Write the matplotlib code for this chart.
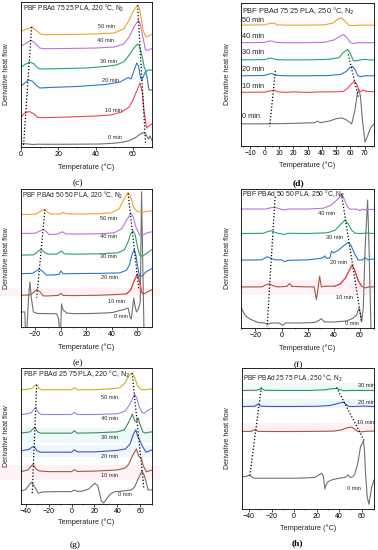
import matplotlib
matplotlib.use("Agg")
import matplotlib.pyplot as plt
from matplotlib.patches import Rectangle
from matplotlib.ticker import MultipleLocator

plt.rcParams['font.family'] = ['Liberation Sans', 'DejaVu Sans']

W, H = 378, 550
fig = plt.figure(figsize=(W / 100, H / 100), dpi=100)

# ---------------- colours ----------------
GRAY = '#707070'
RED = '#f2454f'
BLUE = '#2a78c6'
GREEN = '#1fa865'
VIOLET = '#c26fe0'
ORANGE = '#f0a12a'
BROWN = '#a6583a'
BLUE2 = '#3f4fd6'
GREEN2 = '#3f8c5c'
VIOLET2 = '#9a82e6'
OLIVE = '#c9b512'

# ---------------- panel (c) : PBF PBAd 75 25 PLA, 220 C ----------------
c_0 = [(0, 3.5), (3, 3.2), (6, 2.5), (9, 2.8), (15, 2.7), (30, 2.8), (42, 3), (50, 3.8), (55, 5), (58, 6.5),
       (61, 9), (63.5, 12.5), (65.5, 14.3), (67, 12.5), (68.3, 8), (69.2, 11), (70, 7)]
c_10 = [(0, 30), (2, 34), (4.5, 35.5), (7, 33), (9, 29.5), (12, 29.3), (25, 30), (40, 31), (48, 32), (54, 35),
        (58, 40), (60, 47), (62, 56), (63.8, 64), (65, 55), (66, 35), (67.3, 19), (68.5, 21), (70, 23)]
c_20 = [(0, 61), (2, 64), (4, 67), (6, 66), (8, 62), (10, 59), (15, 59.5), (30, 60.5), (45, 62.5), (53, 65),
        (56, 68), (57.5, 69.5), (59, 68), (60.5, 76), (62, 84), (63, 81), (64, 70), (64.6, 66.7), (65.5, 70),
        (66.8, 76), (67.7, 68), (68.6, 57), (70, 57)]
c_30 = [(0, 80), (2.5, 83), (4.8, 85), (7, 83), (9, 79), (11, 78), (20, 78.3), (35, 79), (45, 80.5), (51, 82),
        (55, 85), (58, 92), (60.5, 99), (62.5, 103), (63.5, 101), (65, 90), (66, 80), (67, 75.7), (68.5, 77), (70, 77)]
c_40 = [(0, 101), (3, 104), (5.4, 106.7), (7.5, 104), (10, 99), (12, 98.3), (25, 98.5), (40, 99), (50, 100),
        (55, 103), (58, 110), (60.5, 120), (62.9, 126.7), (64, 122), (65.3, 110), (66.7, 97), (68, 96.7), (70, 98.3)]
c_50 = [(0, 115.7), (3, 118), (5.7, 120), (8, 117), (10.5, 113), (12, 112.3), (25, 112.5), (40, 113), (50, 114),
        (55, 118), (58, 127), (60.5, 137), (62.5, 141.7), (63.5, 139), (64.5, 128), (65.5, 116), (67, 110),
        (68.5, 111), (70, 112.7)]
c_labels = [('50 min', 46, 120), ('40 min', 45.5, 107), ('30 min', 47, 85.7), ('20 min', 47.7, 66.7),
            ('10 min', 49.5, 37), ('0 min', 50.5, 10)]
c_dots = [[(5.7, 120), (1.3, 0)], [(62.5, 141.7), (66.8, 2)]]

# ---------------- panel (d) : PBF PBAd 75 25 PLA, 250 C ----------------
d_0 = [(-16.5, 22.3), (-5, 22.3), (10, 22.5), (25, 23), (35, 23.5), (37, 25), (39, 23.5), (45, 25), (50, 27.5),
       (54, 28.3), (57, 26.5), (60.9, 22.3), (63, 35), (64.8, 52), (66, 57.3), (67, 50), (68.5, 25), (70.2, 4),
       (72, 10), (74, 18), (76.5, 22.3)]
d_10 = [(-16.5, 54), (0, 54.3), (4, 55.5), (6.6, 56.3), (9, 54.5), (15, 54), (20, 54.5), (30, 54), (40, 54.5),
        (50, 54.5), (55, 55), (58, 58), (61, 63), (63, 65), (64.5, 62), (66, 55), (67.5, 55), (69, 56.3), (71, 55),
        (76.5, 54.7)]
d_20 = [(-16.5, 70.7), (0, 71), (3, 72.5), (5.2, 73), (8, 71.2), (15, 70.7), (30, 70.7), (45, 71), (53, 72),
        (57, 75), (59.5, 79), (61.6, 80), (63.5, 76), (65, 71), (67, 69.7), (70, 70.7), (76.5, 70.7)]
d_30 = [(-16.5, 86.7), (0, 87), (3, 88.3), (5, 88.3), (8, 87), (15, 86.7), (30, 86.7), (45, 87.3), (52, 89),
        (55, 94), (58, 97.3), (60, 93), (62, 86), (64, 85.7), (67, 86.7), (70, 87.3), (73, 86.7), (76.5, 86.7)]
d_40 = [(-16.5, 104), (0, 104.3), (3, 105.7), (5, 105.7), (8, 104.3), (15, 104), (30, 104), (42, 104.5),
        (49, 107), (52, 110), (55.3, 112.3), (57.5, 109), (60, 104), (62, 103.3), (66, 104), (76.5, 104)]
d_50 = [(-16.5, 121.7), (0, 122), (4, 123.5), (6.6, 123.7), (9, 122), (15, 121.7), (30, 121.7), (42, 122),
        (48, 124), (51, 127.5), (53.9, 129), (56, 126), (59, 121.5), (62, 121.3), (66, 121.7), (76.5, 121.7)]
d_labels = [('50 min', -15.5, 126.7), ('40 min', -15.5, 110), ('30 min', -15.5, 93.7), ('20 min', -15.5, 77),
            ('10 min', -15.5, 60.3), ('0 min', -15.5, 29.7)]
d_dots = [[(7.5, 75.7), (3.6, 19.7)], [(58.5, 92.3), (65.6, 49)]]

# ---------------- panel (e) : PBF PBAd 50 50 PLA, 220 C ----------------
e_0 = [(-31, 15), (-28, 15), (-27.5, -5), (-26.5, -5), (-25, 30), (-24, 45), (-23, 30), (-21.3, 15), (-18, 13.5),
       (-10, 13.3), (-3, 13.3), (-1.5, 8), (-0.7, -5), (0, -5), (0.8, 23), (2, 17), (4.8, 14), (10, 13.3),
       (25, 13.5), (35, 14), (41, 14.5), (45, 16), (50, 17.5), (53, 19), (54.5, 10), (55.5, 8), (57.4, 29),
       (58.5, 20), (59.5, 15), (61, 18), (62.5, 25), (63.5, 135), (64.5, 60), (65.5, -10), (71.7, -10)]
e_10 = [(-31, 31.7), (-24, 32), (-21, 34.5), (-18.7, 37.3), (-16, 35), (-13.5, 31), (-10, 31), (-2, 31.5),
        (0.3, 33.5), (2, 31.5), (10, 31.3), (30, 31.7), (45, 32.5), (51.7, 33), (55, 37), (58, 47), (60.3, 52.7),
        (62, 45), (63.5, 35), (64.7, 33), (66, 33.5), (68, 35), (71.7, 37.3)]
e_20 = [(-31, 53.3), (-22, 53.5), (-19, 56), (-16.6, 57.7), (-14, 55.5), (-11.2, 51.7), (-5, 52), (-1, 52.5),
        (0.3, 56), (2, 53), (10, 53.3), (30, 53.5), (46.5, 54), (51.7, 56.7), (54, 62), (56, 72), (57.7, 77.3),
        (59, 72), (60.5, 60), (62, 50), (64, 51), (67, 55), (71.7, 58.3)]
e_30 = [(-31, 71.7), (-21, 72), (-18, 75), (-15.3, 77.7), (-12.5, 74.5), (-10, 72.7), (-3, 72.7), (0.8, 75.7),
        (3, 73), (10, 72.7), (30, 73), (45, 74), (50, 77), (53, 85), (55, 93), (56.9, 96), (58.5, 92), (60, 82),
        (62, 71.7), (64, 70.5), (67, 73), (71.7, 77.3)]
e_40 = [(-31, 93.3), (-20, 93.5), (-16, 96), (-13.5, 97.3), (-11, 95), (-9, 92.3), (-3, 92.5), (1.5, 95),
        (4, 93), (10, 92.7), (30, 93), (42, 94), (48, 98), (51.5, 106), (55, 113.3), (57, 110), (59, 100),
        (62, 91.7), (65, 92), (68, 94), (71.7, 95)]
e_50 = [(-31, 112.3), (-20, 112.5), (-15, 116), (-12.7, 117.3), (-10, 114.5), (-8, 112.7), (0, 112.7),
        (2, 114.5), (4, 113), (10, 112.7), (30, 113), (40, 114), (46, 118), (50, 128), (53, 134.3), (55, 130),
        (57.5, 119), (60.3, 115), (64, 114.5), (68, 115.5), (71.7, 116)]
e_labels = [('50 min', 37.3, 108.3), ('40 min', 37.3, 90), ('30 min', 37.3, 70.7), ('20 min', 38.6, 49),
            ('10 min', 43.8, 25), ('0 min', 47.7, 10.7)]
e_dots = [[(-12.2, 117.3), (-18.7, 29.3)], [(53, 133.3), (61.3, 38)]]

# ---------------- panel (f) : PBF PBAd 50 50 PLA, 250 C ----------------
f_0 = [(-31, 21), (-30, 18), (-28, 13), (-25, 9.5), (-22, 7.7), (-18, 5.5), (-13, 5), (-10.5, 3.7), (-8, 5),
       (-2, 5), (1, 2.7), (3, 5), (15, 5), (25, 5.5), (28, 7), (30.5, 9.3), (33, 6), (40, 6), (50, 7), (55, 10),
       (57.5, 13), (59.2, 20), (60.3, 15), (61.3, 6), (62.6, 20), (64, 80), (65.9, 127.7), (67, 80),
       (68.5, -2), (70.8, -2)]
f_10 = [(-31, 41), (-15, 41), (-12, 43), (-9.2, 44), (-6, 42), (-3, 41), (4, 41.5), (6.2, 44.3), (8, 41.5),
        (20, 41), (25, 41), (26.7, 28.3), (27.5, 35), (29.2, 51.7), (30.5, 41), (33, 41.7), (40.8, 41.7),
        (45, 44), (49, 50), (52, 58), (54.1, 62.7), (56, 58), (58.5, 48), (61.3, 41.7), (64, 40), (67, 41),
        (70.8, 41)]
f_20 = [(-31, 67.7), (-15, 68), (-12, 70.5), (-10.5, 71), (-8, 69.5), (-5, 68), (0, 68), (2.3, 66.3), (5, 67.5),
        (20, 68), (30, 69.5), (32, 70.5), (33, 72), (34.5, 69.5), (37, 69.7), (38.2, 76.5), (40, 75), (44, 78),
        (48, 82.5), (51, 85.3), (53, 83), (56, 74), (58.7, 67.7), (62, 68), (64, 70), (66, 68), (70.8, 69)]
f_30 = [(-31, 94.3), (-14, 94.5), (-10, 96.5), (-8, 97), (-5, 95.5), (-2, 94.3), (2.3, 93.3), (5, 94.5),
        (20, 94.3), (35, 95), (41, 97.5), (45, 103), (48.5, 107.7), (51, 104), (54, 97), (56.5, 94.5), (60, 94.3),
        (65, 94.7), (70.8, 94.3)]
f_40 = [(-31, 118.7), (-12, 118.7), (-7, 120.3), (-4, 120), (-1, 118.7), (2.3, 117.7), (5, 118.7), (20, 118.7),
        (32, 119.5), (38, 122.5), (43, 128.5), (45.9, 132.7), (47.5, 130), (50, 122), (52, 118.7), (58, 118.5),
        (60, 117), (61.5, 118.5), (64, 118), (70.8, 118.5)]
f_labels = [('40 min', 34.4, 114), ('30 min', 40.8, 90.5), ('20 min', 43.3, 65), ('10 min', 48.5, 30),
            ('0 min', 53.6, 4.3)]
f_dots = [[(-4.9, 131), (-11, 1)], [(45.9, 133.7), (61.3, 6)]]

# ---------------- panel (g) : PBF PBAd 25 75 PLA, 220 C ----------------
g_0 = [(-44, 13), (-40, 14.5), (-37, 19), (-34.8, 21.7), (-32, 17), (-29, 10.7), (-25, 12), (-15, 12.3), (0, 12.3),
       (2.5, 14), (5, 12.5), (10, 13), (15, 15), (20.3, 20.7), (23, 18), (26, 3), (28, 1), (29, 2.3), (31, 6),
       (34, 10), (37.7, 12.3), (45, 13), (52, 14), (55, 17), (58, 25), (61.4, 33), (63.5, 28), (65, 22),
       (66.7, 14), (70.1, 14)]
g_10 = [(-44, 32.3), (-38, 34), (-35, 38), (-33.3, 39.7), (-31, 35), (-28, 33), (-20, 32.3), (0, 32.3),
        (2.5, 34.3), (5, 32.5), (20, 32.8), (40, 34), (47, 36), (50, 40), (53, 48), (56.5, 55), (58.5, 48),
        (60.9, 45), (62.5, 38), (65.2, 32.3), (68, 33), (70.1, 34)]
g_20 = [(-44, 53), (-37, 54.5), (-34, 57), (-32.5, 57.3), (-30, 53), (-27, 51.7), (-10, 51.7), (0, 51.7),
        (2.5, 54), (5, 52), (20, 52), (40, 53.5), (47, 55), (51, 60), (54, 70), (56, 74), (57.5, 68), (60, 62),
        (62, 57), (65, 51.7), (68, 53), (70.1, 54)]
g_30 = [(-44, 70.7), (-36, 72), (-33.5, 75), (-31.9, 76.3), (-29.5, 72), (-27, 70.7), (0, 70.7), (2.5, 73),
        (5, 70.7), (20, 71), (40, 72), (46, 74), (50, 82), (53, 89.7), (55, 83), (56.5, 82), (58, 86), (59.5, 80),
        (62, 72), (64.5, 70.7), (67, 71.5), (70.1, 72)]
g_40 = [(-44, 89), (-35, 91), (-32.5, 95), (-31.3, 96.3), (-29, 91), (-26, 89.3), (0, 89.3), (2.5, 91.5),
        (5, 89.3), (20, 89.3), (40, 90), (47, 93), (51, 100), (55, 109.7), (57, 105), (59, 97), (61.5, 91),
        (63, 90.5), (66, 93), (70.1, 95.7)]
g_50 = [(-44, 114), (-35, 115), (-32, 118), (-30.4, 119), (-28.5, 115.5), (-26, 114), (0, 114), (2.5, 116),
        (5, 114), (20, 114), (35, 115), (42, 116), (46, 120), (50, 128), (52.8, 130.7), (55, 126), (57.5, 118),
        (60.3, 114.3), (64, 114), (70.1, 115)]
g_labels = [('50 min', 33.3, 106.3), ('40 min', 33.3, 85), ('30 min', 33.3, 66), ('20 min', 33.3, 47.5),
            ('10 min', 33.3, 28.5), ('0 min', 46.4, 9)]
g_dots = [[(-30.4, 119), (-34.2, 10.7)], [(52.8, 130.7), (63, 15.7)]]

# ---------------- panel (h) : PBF PBAd 25 75 PLA, 250 C ----------------
h_0 = [(-46.2, 32.3), (-42, 32.5), (-39.4, 34), (-37, 31.5), (-35, 30.7), (-20, 30.7), (0, 30.7), (10, 31),
       (18.5, 31.5), (22, 34), (24.4, 35.7), (26, 33), (27.4, 20), (28.5, 24), (30, 27), (33.3, 29), (40, 30.7),
       (45, 31.5), (48, 34), (50, 31.5), (52, 32), (54, 35), (56.5, 45), (59, 62), (61.5, 68), (62.5, 60),
       (63.5, 35), (65, 12), (66.5, 4.7), (67.5, 12), (69, 22), (71, 29)]
h_10 = [(-46.2, 77.3), (-38, 77.5), (-35, 79.3), (-32, 77.5), (-20, 77.3), (0, 77.3), (20, 77.5), (35, 77.7),
        (42, 79), (47, 81), (51, 81.7), (54, 79.5), (57, 77.3), (60, 77), (65, 77.7), (71, 77.7)]
h_20 = [(-46.2, 102.3), (-35, 102.5), (-32, 104.7), (-29, 102.5), (-20, 102.3), (0, 102.3), (20, 102.5),
        (32, 103.3), (38, 105), (43.7, 106.7), (46, 104.5), (49, 102.3), (55, 102.3), (60, 102.7), (71, 102.3)]
h_30 = [(-46.2, 118.3), (-33, 118.5), (-29, 120), (-26, 118.5), (-10, 118.3), (0, 118.3), (15, 118.3),
        (28, 119), (33, 120), (37.7, 120.3), (40, 119.5), (44, 118), (50, 118.3), (71, 118.3)]
h_labels = [('30 min', 56.4, 123.3), ('20 min', 57, 106.3), ('10 min', 55.5, 86.7), ('0 min', 46.6, 20.7)]
h_dots = [[(-29, 121.3), (-39.4, 32.3)], [(37.7, 121.3), (62.4, 68)]]

# ---------------- helpers ----------------
def add_axes(x0, y0, x1, y1):
    ax = fig.add_axes([x0 / W, 1 - y1 / H, (x1 - x0) / W, (y1 - y0) / H])
    ax.set_facecolor('none')
    for s in ax.spines.values():
        s.set_linewidth(0.6)
    ax.set_yticks([])
    ax.tick_params(axis='x', which='major', direction='out', length=2, width=0.5, pad=1)
    ax.tick_params(axis='x', which='minor', direction='out', length=1, width=0.4)
    return ax


def band(x0, y0, x1, y1, color):
    fig.patches.append(Rectangle((x0 / W, 1 - y1 / H), (x1 - x0) / W, (y1 - y0) / H,
                                 transform=fig.transFigure, facecolor=color, edgecolor='none', zorder=-1))


def line(ax, pts, color, lw=0.8, **kw):
    ax.plot([p[0] for p in pts], [p[1] for p in pts], color=color, lw=lw, solid_joinstyle='round', **kw)


def panel(ax, curves, colors, labels, dots, title, xlim, ylim, major, minor, fs_tick, fs_lab, fs_title,
          title_xy, ha='center', red_range=None):
    for pts, col in zip(curves, colors):
        line(ax, pts, col)
    if red_range is not None:
        lo, hi = red_range
        seg = [p for p in curves[1] if lo <= p[0] <= hi]
        line(ax, seg, RED)
    for d in dots:
        line(ax, d, 'black', lw=0.9, linestyle=(0, (1, 1.6)))
    for txt, x, y in labels:
        ax.text(x, y, txt, fontsize=fs_lab, ha=ha, va='center', color='#222222')
    ax.text(title_xy[0], title_xy[1], title, fontsize=fs_title, ha='left', va='center', color='#222222')
    ax.set_xlim(*xlim)
    ax.set_ylim(*ylim)
    ax.xaxis.set_major_locator(MultipleLocator(major))
    ax.xaxis.set_minor_locator(MultipleLocator(minor))
    ax.tick_params(axis='x', labelsize=fs_tick)


def frame_texts(ax_box, xlabel_y, letter, letter_x, letter_y, ylab_x, bold=False):
    x0, y0, x1, y1 = ax_box
    fig.text((x0 + x1) / 2 / W, 1 - xlabel_y / H, 'Temperature (\u00b0C)', fontsize=5.3,
             ha='center', va='center', color='#222222')
    fig.text(ylab_x / W, 1 - (y0 + y1) / 2 / H, 'Derivative heat flow', fontsize=5,
             rotation=90, ha='center', va='center', color='#222222')
    fig.text(letter_x / W, 1 - letter_y / H, letter, fontsize=6.8, ha='center', va='center',
             family=['Liberation Serif', 'DejaVu Serif'], fontweight='bold' if bold else 'normal')


# ---------------- background bands ----------------
band(0, 288, 160, 296, '#fef2f5')      # (e) 10 min
band(241, 280, 374, 295, '#fef2f6')    # (f) 10 min
band(21, 428, 152, 443, '#eefafa')     # (g) 30 min
band(21, 445, 152, 457, '#eff9fb')     # (g) 20 min
band(0, 465, 160, 480, '#fef2f5')      # (g) 10 min
band(241, 383, 375, 392, '#ecfafa')    # (h) 30 min
band(241, 399, 375, 408, '#ecf8fb')    # (h) 20 min
band(241, 423, 375, 432, '#fef2f5')    # (h) 10 min

# ---------------- panels ----------------
box_c = (21, 2, 152, 147)
ax = add_axes(*box_c)
panel(ax, [c_0, c_10, c_20, c_30, c_40, c_50], [GRAY, RED, BLUE, GREEN, VIOLET, ORANGE], c_labels, c_dots,
      'PBF PBAd 75 25 PLA, 220 \u00b0C, N$_2$', (0, 70.2), (0, 145), 20, 10, 5, 4.1, 4.8, (1, 139))
frame_texts(box_c, 167, '(c)', 78, 183, 7)

box_d = (241, 3, 374, 146)
ax = add_axes(*box_d)
panel(ax, [d_0, d_10, d_20, d_30, d_40, d_50], [GRAY, RED, BLUE, GREEN, VIOLET, ORANGE], d_labels, d_dots,
      'PBF PBAd 75 25 PLA, 250 \u00b0C, N$_2$', (-16.5, 76.5), (0, 144), 10, 5, 4.9, 5.3, 5.3, (-15.5, 135.7),
      ha='left')
frame_texts(box_d, 165, '(d)', 298, 183, 227, bold=True)

box_e = (21, 189, 152, 327)
ax = add_axes(*box_e)
panel(ax, [e_0, e_10, e_20, e_30, e_40, e_50], [GRAY, BROWN, BLUE, GREEN, VIOLET, ORANGE], e_labels, e_dots,
      'PBF PBAd 50 50 PLA, 220 \u00b0C, N$_2$', (-31, 71.7), (0, 137.7), 20, 10, 5, 4.1, 4.8, (-30, 131.7),
      red_range=(51.7, 64.7))
frame_texts(box_e, 347, '(e)', 78, 363, 7)

box_f = (241, 189, 374, 328)
ax = add_axes(*box_f)
panel(ax, [f_0, f_10, f_20, f_30, f_40], [GRAY, BROWN, BLUE, GREEN, VIOLET], f_labels, f_dots,
      'PBF PBAd 50 50 PLA, 250 \u00b0C, N$_2$', (-31, 70.8), (0, 138.7), 20, 10, 5, 4.1, 4.9, (-30, 133.7),
      red_range=(40.8, 61.3))
frame_texts(box_f, 348, '(f)', 298, 365, 227)

box_g = (21, 368, 152, 504)
ax = add_axes(*box_g)
panel(ax, [g_0, g_10, g_20, g_30, g_40, g_50], [GRAY, BROWN, BLUE2, GREEN2, VIOLET2, OLIVE], g_labels, g_dots,
      'PBF PBAd 25 75 PLA, 220 \u00b0C, N$_2$', (-44, 70.1), (0, 135.7), 20, 10, 5, 4.1, 5, (-42, 129))
frame_texts(box_g, 522, '(g)', 75, 545, 7)

box_h = (242, 368, 374, 509)
ax = add_axes(*box_h)
panel(ax, [h_0, h_10, h_20, h_30], [GRAY, BROWN, BLUE2, GREEN2], h_labels, h_dots,
      'PBF PBAd 25 75 PLA, 250 \u00b0C, N$_2$', (-46.2, 71), (0, 140.7), 20, 10, 5, 4.1, 4.7, (-45, 130),
      ha='left')
frame_texts(box_h, 528, '(h)', 297, 543, 227, bold=True)

fig.savefig('out.png', dpi=100)
